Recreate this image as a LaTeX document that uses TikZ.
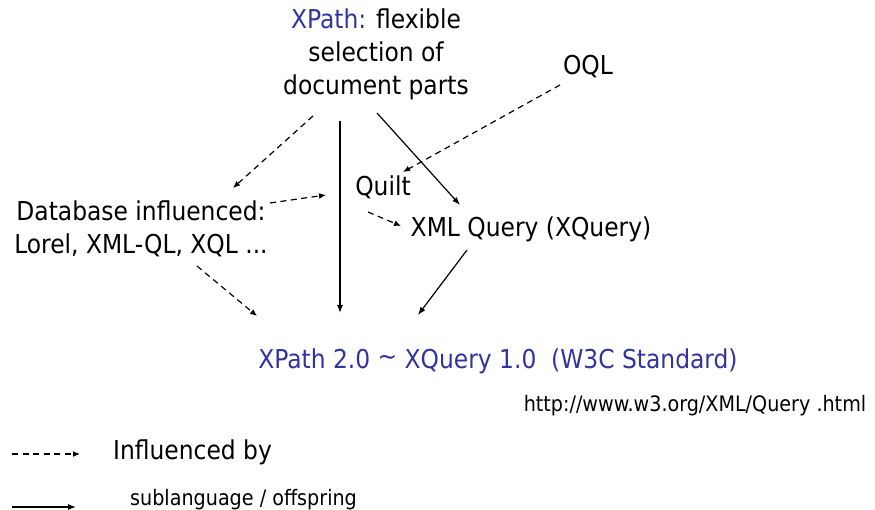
\documentclass[tikz,border=0pt]{standalone}
\usepackage{fontspec}
\setmainfont{DejaVu Sans Condensed}
\usetikzlibrary{arrows.meta}
\definecolor{xblue}{RGB}{51,51,160}
\tikzset{
  lbl/.style={inner sep=0pt, font=\fontsize{26}{33}\selectfont, align=center},
  small/.style={inner sep=0pt, font=\fontsize{21.3}{24}\selectfont},
  infl/.style={dashed, dash pattern=on 6pt off 4.5pt, line width=1.2pt, -{Latex[length=7pt,width=6pt]}},
  sub/.style={line width=1.2pt, -{Latex[length=8pt,width=6pt]}}
}
\begin{document}
\begin{tikzpicture}[x=1pt,y=-1pt]
\useasboundingbox (0,0) rectangle (875,510);
% nodes
\node[lbl] (xpath) at (376,54) {\textcolor{xblue}{XPath:} flexible\\selection of\\document parts};
\node[lbl] (oql) at (588,67) {OQL};
\node[lbl] (quilt) at (383,187) {Quilt};
\node[lbl] (db) at (141,229) {Database influenced:\\Lorel, XML-QL, XQL ...};
\node[lbl] (xq) at (531,229) {XML Query (XQuery)};
\node[lbl, text=xblue] (std) at (498,361) {XPath 2.0 {\raisebox{0.2ex}{\char`\~}} XQuery 1.0\ \ (W3C Standard)};
\node[small] (url) at (695,406) {http://www.w3.org/XML/Query .html};
\node[lbl, anchor=west] (leg1) at (113,452) {Influenced by};
\node[small, anchor=west] (leg2) at (130,500) {sublanguage / offspring};
% connector end points
\coordinate (a1) at (313,116); \coordinate (a2) at (233,188);
\coordinate (b1) at (340,121); \coordinate (b2) at (340,313);
\coordinate (c1) at (377,113); \coordinate (c2) at (460,205);
\coordinate (d1) at (560,85);  \coordinate (d2) at (403,172);
\coordinate (e1) at (270,203); \coordinate (e2) at (326,195);
\coordinate (f1) at (368,212); \coordinate (f2) at (401,226);
\coordinate (g1) at (197,266); \coordinate (g2) at (257,316);
\coordinate (h1) at (467,250); \coordinate (h2) at (418,315);
\coordinate (l1) at (12,454);  \coordinate (l2) at (80,454);
\coordinate (m1) at (12,507);  \coordinate (m2) at (76,507);
% connectors
\draw[infl] (a1) -- (a2);
\draw[sub]  (b1) -- (b2);
\draw[sub]  (c1) -- (c2);
\draw[infl] (d1) -- (d2);
\draw[infl] (e1) -- (e2);
\draw[infl] (f1) -- (f2);
\draw[infl] (g1) -- (g2);
\draw[sub]  (h1) -- (h2);
% legend
\draw[infl] (l1) -- (l2);
\draw[sub]  (m1) -- (m2);
\end{tikzpicture}
\end{document}
